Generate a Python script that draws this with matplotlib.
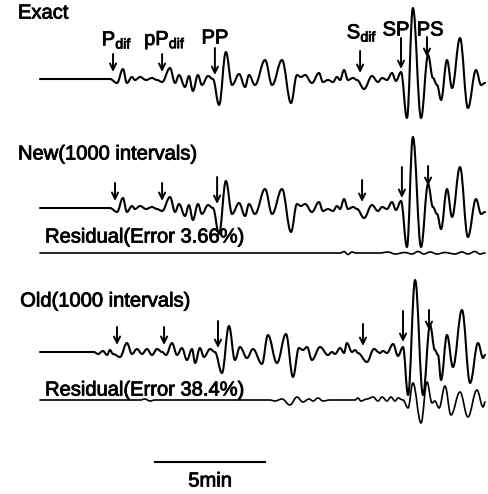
import numpy as np
import matplotlib
matplotlib.use("Agg")
import matplotlib.pyplot as plt
import matplotlib.patheffects as pe
from matplotlib.path import Path
from matplotlib.patches import PathPatch

plt.rcParams['font.family'] = ['Liberation Sans', 'DejaVu Sans']
plt.rcParams['mathtext.fontset'] = 'custom'
plt.rcParams['mathtext.rm'] = 'Liberation Sans'
plt.rcParams['mathtext.it'] = 'Liberation Sans:italic'

# exact / new seismogram: time (min) and amplitude (arbitrary counts), read at extrema
exact_t = [0.00, 2.73, 3.18, 3.50, 3.77, 3.95, 4.18, 4.32, 4.55, 4.82, 5.09, 5.32,
           5.55, 5.91, 6.14, 6.32, 6.59, 6.77, 6.95, 7.18, 7.36, 7.64, 7.86, 8.14,
           8.45, 8.73, 9.05, 9.32, 9.50, 9.77, 10.23, 10.55, 11.00, 11.41, 11.68,
           11.86, 12.05, 12.36, 12.68, 12.86, 13.09, 13.32, 13.50, 13.64, 13.82,
           14.00, 14.23, 14.41, 14.73, 15.09, 15.36, 15.55, 15.77, 16.00, 16.18,
           16.41, 16.68, 16.95, 17.32, 17.64, 17.86, 18.05, 18.23, 18.50, 18.73,
           19.09, 19.45, 19.82, 20.05, 20.23]
exact_a = [0, 0, 0, -4, 10, -4, 2, -1, 2, -1, 1, -1,
           -3, 11, -4, 4, -8, 3, -12, 4, -6, 3, 0, -26,
           27, -6, 5, -8, 4, -6, 19, -6, 19, -24, 4,
           2, 4, -4, 6, -3, -1, -3, 2, -1, 9,
           -1, 1, -1, -10, 3, -3, 1, -1, 6, -2,
           7, -39, 71, -39, 24, 1, -6, -21, 19, -9,
           41, -29, 9, -6, -4]

# residual of the new method (nearly flat)
res_new_t = [0.00, 9.09, 13.64, 13.82, 14.00, 14.18, 14.36, 15.45, 15.82, 16.14, 16.59,
             16.91, 17.18, 17.45, 17.73, 18.05, 18.41, 18.86, 19.18, 19.45, 19.77,
             20.00, 20.23]
res_new_a = [0, 0, 0, 1.5, -1.5, 1, 0, 0, 1, -1, 0.5,
             -1, 1.5, -1, 1, -1, 0.5, -1, 1, -1, 1.5,
             -1, 0]

# old method seismogram
old_t = [0.00, 2.45, 2.64, 2.86, 3.05, 3.18, 3.32, 3.64, 3.95, 4.18, 4.41, 4.64,
         4.86, 5.09, 5.32, 5.55, 5.73, 6.00, 6.23, 6.45, 6.68, 6.91, 7.05, 7.27,
         7.45, 7.73, 7.95, 8.27, 8.59, 8.86, 9.09, 9.41, 9.68, 10.09, 10.36,
         10.77, 11.18, 11.50, 11.77, 11.95, 12.14, 12.36, 12.73, 13.09, 13.27,
         13.41, 13.64, 13.82, 13.95, 14.18, 14.32, 14.45, 14.86, 15.18, 15.45,
         15.59, 15.77, 16.05, 16.27, 16.50, 16.73, 17.05, 17.41, 17.73, 17.95,
         18.09, 18.23, 18.50, 18.77, 19.18, 19.55, 19.91, 20.14, 20.23]
old_a = [0, 0, -2, 1, -3, 2, -2, -5, 9, -2, 3, -2,
         3, -3, 3, 0, -3, 9, -3, 4, -8, 3, -11, 4,
         -5, 3, 0, -21, 26, -8, 5, -6, 3, -12, 17,
         -11, 18, -25, 4, 2, 5, -8, 5, -3, 0,
         -2, 4, -1, 9, 0, 2, -1, -10, 3, -1,
         1, -1, 8, -4, 5, -43, 72, -43, 27, 2,
         -3, -28, 17, -15, 42, -31, 9, -6, -3]

# residual of the old method
res_old_t = [0.00, 4.55, 4.77, 5.00, 5.23, 9.09, 10.45, 10.68, 11.00, 11.36, 11.68,
             11.95, 12.23, 12.41, 12.64, 12.86, 13.18, 14.32, 14.45, 14.59, 14.86,
             15.14, 15.36, 15.55, 15.77, 15.95, 16.14, 16.27, 16.50, 16.73, 16.95,
             17.32, 17.59, 17.82, 17.95, 18.14, 18.41, 18.68, 19.09, 19.45, 19.86,
             20.14, 20.23]
res_old_a = [0, 0, 1, -1, 0, 0, 0, -1, 1, -5, 3,
             -2, 1, -1, 2, -1, 0, 0, 2, -1, 1,
             3, -1, 3, -1, 3, -1, 2, 0, -8, 17,
             -23, 18, -3, -1, -8, 14, -15, 8, -17, 10,
             -7, -2]

# phase arrivals (min) and labels
phases = [r'P$_{\rm dif}$', r'pP$_{\rm dif}$', 'PP', r'S$_{\rm dif}$', 'SP', 'PS']
exact_phase_t = [3.32, 5.55, 7.95, 14.55, 16.41, 17.59]
new_phase_t = [3.41, 5.55, 8.05, 14.64, 16.45, 17.64]
old_phase_t = [3.50, 5.64, 8.09, 14.68, 16.50, 17.68]
arrow_tail = [25, 25, 31, 28, 41, 42]
arrow_tip = [7, 7, 4, 6, 10, 22]

fig = plt.figure(figsize=(4.88, 4.94), dpi=100)
ax = fig.add_axes([0, 0, 1, 1])
ax.set_xlim(-40 / 22, 448 / 22)
ax.set_ylim(-494, 0)
ax.axis('off')

base = {'exact': -79, 'new': -208, 'res_new': -253, 'old': -352, 'res_old': -400}


def trace(t, a, offset, lw):
    # bezier segments with flat tangents at each picked extremum
    verts = [(t[0], a[0] + offset)]
    codes = [Path.MOVETO]
    for i in range(1, len(t)):
        dt = t[i] - t[i - 1]
        y0, y1 = a[i - 1] + offset, a[i] + offset
        verts += [(t[i - 1] + 0.38 * dt, y0), (t[i] - 0.38 * dt, y1), (t[i], y1)]
        codes += [Path.CURVE4] * 3
    ax.add_patch(PathPatch(Path(verts, codes), fill=False, edgecolor='black',
                           lw=lw, capstyle='round', joinstyle='round'))


trace(exact_t, exact_a, base['exact'], 1.5)
trace(exact_t, exact_a, base['new'], 1.5)
trace(res_new_t, res_new_a, base['res_new'], 1.2)
trace(old_t, old_a, base['old'], 1.5)
trace(res_old_t, res_old_a, base['res_old'], 1.2)


def arrows(times, b):
    for t, tail, tip in zip(times, arrow_tail, arrow_tip):
        ax.annotate('', xy=(t, b + tip), xytext=(t, b + tail),
                    arrowprops=dict(arrowstyle='->,head_length=0.45,head_width=0.22',
                                    color='black', lw=1.4, shrinkA=0, shrinkB=0))


arrows(exact_phase_t, base['exact'])
arrows(new_phase_t, base['new'])
arrows(old_phase_t, base['old'])

bold_fx = [pe.withStroke(linewidth=0.6, foreground='black')]
fs = 14.5

# phase labels above the exact trace
label_x = [3.5, 5.68, 7.95, 14.64, 16.18, 17.73]
label_y = [-40, -40, -38, -33, -30, -30]
for lab, x, y in zip(phases, label_x, label_y):
    ax.text(x, y, lab, ha='center', va='center', fontsize=fs, path_effects=bold_fx)

ax.text(-1.0, -13, 'Exact', ha='left', va='center', fontsize=fs, path_effects=bold_fx)
ax.text(-1.0, -154, 'New(1000 intervals)', ha='left', va='center', fontsize=fs,
        path_effects=bold_fx)
ax.text(0.23, -237, 'Residual(Error 3.66%)', ha='left', va='center', fontsize=fs,
        path_effects=bold_fx)
ax.text(-0.9, -301, 'Old(1000 intervals)', ha='left', va='center', fontsize=fs,
        path_effects=bold_fx)
ax.text(0.23, -390, 'Residual(Error 38.4%)', ha='left', va='center', fontsize=fs,
        path_effects=bold_fx)

# 5 minute scale bar
bar_start = 5.23
ax.plot([bar_start, bar_start + 5], [-462, -462], color='black', lw=1.5)
ax.text(bar_start + 2.5, -481, '5min', ha='center', va='center', fontsize=fs,
        path_effects=bold_fx)

fig.savefig('out.png', dpi=100)
